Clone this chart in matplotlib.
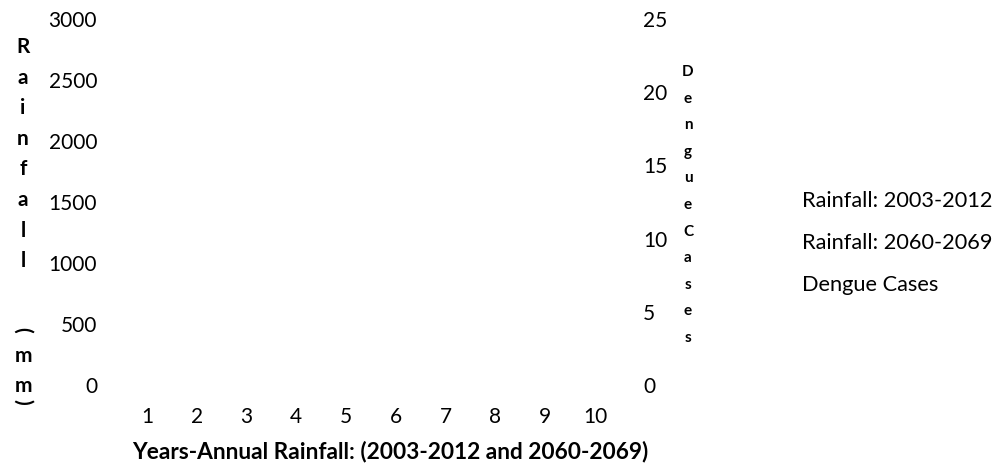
import matplotlib
matplotlib.use("Agg")
import matplotlib.pyplot as plt

# ---- data (the reference chart shows no plotted marks) ----
years = [1, 2, 3, 4, 5, 6, 7, 8, 9, 10]
year_labels = ["1", "2", "3", "4", "5", "6", "7", "8", "9", "10"]
rainfall_2003_2012 = []
rainfall_2060_2069 = []
dengue_cases = []
rain_ticks = [0, 500, 1000, 1500, 2000, 2500, 3000]
dengue_ticks = [0, 5, 10, 15, 20, 25]
series_labels = ["Rainfall: 2003-2012", "Rainfall: 2060-2069", "Dengue Cases"]
x_title = "Years-Annual Rainfall: (2003-2012 and 2060-2069)"
left_title = "Rainfall (mm)"
right_title = "DengueCases"

plt.rcParams["font.family"] = ["Lato", "DejaVu Sans"]

W, H = 998, 463
fig = plt.figure(figsize=(W / 100, H / 100), dpi=100)
renderer = fig.canvas.get_renderer()

def fx(px):
    return px / W

def fy(py):
    return (H - py) / H

def fit_size(text, target_px, weight="normal", base=15):
    t = fig.text(0, 0, text, fontsize=base, fontweight=weight)
    w = t.get_window_extent(renderer=renderer).width
    t.remove()
    return base * target_px / w

ax = fig.add_axes([fx(122), fy(385), fx(620) - fx(122), fy(19) - fy(385)])
ax2 = ax.twinx()

l1, = ax.plot(years[:len(rainfall_2003_2012)], rainfall_2003_2012, color="#4472C4")
l2, = ax.plot(years[:len(rainfall_2060_2069)], rainfall_2060_2069, color="#ED7D31")
l3, = ax2.plot(years[:len(dengue_cases)], dengue_cases, color="#A5A5A5")

ax.set_xlim(0.5, 10.5)
ax.set_ylim(0, 3000)
ax2.set_ylim(0, 25)
ax.set_xticks(years)
ax.set_xticklabels(year_labels)
ax.set_yticks(rain_ticks)
ax2.set_yticks(dengue_ticks)

fs = 15
for a in (ax, ax2):
    for s in a.spines.values():
        s.set_visible(False)
    a.set_facecolor("none")
ax.tick_params(axis="x", length=0, pad=15.5, labelsize=fs, colors="black")
ax.tick_params(axis="y", length=0, pad=18, labelsize=fs, colors="black")
ax2.tick_params(axis="y", length=0, pad=16.5, labelsize=fs, colors="black")

# x axis title (fitted to the reference width)
xfs = fit_size(x_title, 517, weight="bold")
fig.text(fx(390), fy(452), x_title, ha="center", va="center",
         fontsize=xfs, fontweight="bold")

# stacked left axis title
left_pos = [47 + 30.6 * i for i in range(8)] + [None, 330, 356, 386, 402]
for ch, py in zip(left_title, left_pos):
    if ch == " ":
        continue
    rot = -90 if ch in "()" else 0
    fig.text(fx(23), fy(py), ch, ha="center", va="center",
             fontsize=15, fontweight="bold", rotation=rot)

# stacked right axis title
for i, ch in enumerate(right_title):
    fig.text(fx(688), fy(72 + i * 26.6), ch, ha="center", va="center",
             fontsize=11, fontweight="bold")

lfs = fit_size(series_labels[0], 191)
leg = fig.legend([l1, l2, l3], series_labels, loc="upper left",
                 bbox_to_anchor=(fx(802), fy(191)), frameon=False,
                 handlelength=0, handletextpad=0, borderpad=0, borderaxespad=0,
                 labelspacing=1.0, fontsize=lfs)

fig.savefig("out.png", dpi=100)
